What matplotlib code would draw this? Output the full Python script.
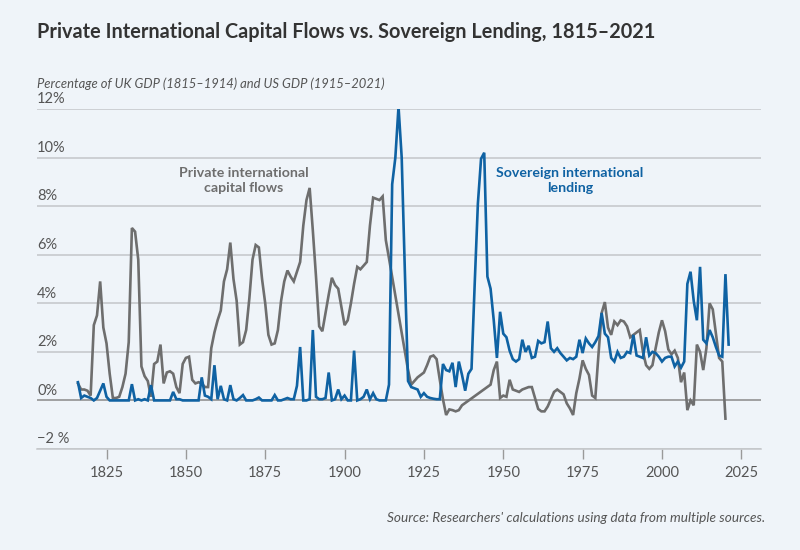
import matplotlib
matplotlib.use("Agg")
import matplotlib.pyplot as plt
import numpy as np

plt.rcParams['font.family'] = ['Lato', 'DejaVu Sans']

# ---------------- data ----------------
private_years = (list(range(1816, 1915)) + list(range(1920, 1938)) + list(range(1946, 2021)))
private_vals = [
    # 1816-1914
    0.7, 0.45, 0.45, 0.4, 0.2, 3.1, 3.5, 4.9, 3.0, 2.35,
    1.1, 0.1, 0.1, 0.15, 0.55, 1.1, 2.4, 7.1, 6.95, 5.8,
    1.4, 1.0, 0.8, 0.15, 1.5, 1.6, 2.3, 0.7, 1.15, 1.2,
    1.1, 0.55, 0.3, 1.5, 1.75, 1.8, 0.85, 0.7, 0.75, 0.7,
    0.55, 0.55, 2.15, 2.8, 3.3, 3.7, 4.9, 5.4, 6.5, 5.0,
    4.1, 2.3, 2.4, 2.9, 4.2, 5.8, 6.4, 6.3, 5.0, 4.0,
    2.7, 2.3, 2.35, 2.9, 4.1, 4.9, 5.35, 5.1, 4.9, 5.3,
    5.7, 7.2, 8.25, 8.75, 7.0, 5.1, 3.05, 2.85, 3.6, 4.35,
    5.05, 4.75, 4.6, 3.85, 3.1, 3.3, 4.0, 4.8, 5.5, 5.4,
    5.55, 5.7, 7.2, 8.35, 8.3, 8.25, 8.4, 6.6, 5.85,
    # 1920-1937
    1.25, 0.65, 0.8, 0.95, 1.05, 1.15, 1.45, 1.8, 1.85, 1.7,
    0.85, 0.05, -0.6, -0.37, -0.4, -0.45, -0.4, -0.2,
    # 1946-2020
    0.65, 1.25, 1.6, 0.1, 0.2, 0.15, 0.85, 0.45, 0.4, 0.35,
    0.45, 0.5, 0.55, 0.55, 0.1, -0.35, -0.45, -0.45, -0.25, 0.05,
    0.35, 0.45, 0.35, 0.25, -0.12, -0.33, -0.6, 0.3, 0.9, 1.65,
    1.3, 1.05, 0.2, 0.1, 1.9, 3.6, 4.05, 3.0, 2.7, 3.25,
    3.1, 3.3, 3.25, 3.05, 2.6, 2.7, 2.8, 2.9, 2.0, 1.45,
    1.3, 1.45, 2.15, 2.8, 3.3, 2.85, 2.1, 1.9, 2.05, 1.75,
    0.75, 1.15, -0.4, 0.0, -0.2, 2.3, 2.0, 1.25, 2.15, 4.0,
    3.75, 2.75, 1.75, 1.6, -0.75,
]

sovereign_years = list(range(1816, 2022))
sovereign_vals = [
    # 1816-1865
    0.75, 0.1, 0.2, 0.15, 0.1, 0.0, 0.1, 0.4, 0.7, 0.15,
    0.0, 0.0, 0.0, 0.0, 0.0, 0.0, 0.0, 0.67, 0.0, 0.05,
    0.0, 0.05, 0.0, 0.63, 0.0, 0.0, 0.0, 0.0, 0.0, 0.0,
    0.35, 0.05, 0.05, 0.0, 0.0, 0.0, 0.0, 0.0, 0.0, 0.95,
    0.2, 0.15, 0.05, 1.45, 0.05, 0.6, 0.05, 0.0, 0.63, 0.05,
    # 1866-1915
    0.0, 0.1, 0.22, 0.0, 0.0, 0.0, 0.05, 0.12, 0.0, 0.0,
    0.0, 0.0, 0.22, 0.0, 0.0, 0.05, 0.1, 0.05, 0.05, 0.6,
    2.2, 0.0, 0.0, 0.05, 2.9, 0.15, 0.05, 0.05, 0.1, 1.15,
    0.0, 0.05, 0.45, 0.05, 0.2, 0.0, 0.0, 2.05, 0.0, 0.05,
    0.15, 0.45, 0.05, 0.3, 0.05, 0.0, 0.0, 0.0, 0.65, 8.9,
    # 1916-1965
    10.0, 12.1, 10.0, 5.3, 0.8, 0.55, 0.5, 0.45, 0.15, 0.3,
    0.15, 0.1, 0.07, 0.05, 0.05, 1.5, 1.25, 1.2, 1.55, 0.55,
    1.6, 1.05, 0.4, 1.1, 1.3, 4.8, 8.1, 9.95, 10.2, 5.1,
    4.6, 3.3, 1.75, 3.65, 2.75, 2.6, 2.05, 1.7, 1.6, 1.7,
    2.5, 2.0, 2.25, 1.75, 1.8, 2.45, 2.35, 2.4, 3.25, 2.15,
    # 1966-2021
    2.0, 2.15, 1.95, 1.8, 1.65, 1.75, 1.7, 1.8, 2.5, 1.95,
    2.55, 2.35, 2.2, 2.4, 2.65, 3.6, 2.75, 2.6, 1.75, 1.6,
    2.0, 1.75, 1.8, 2.0, 1.95, 2.7, 1.85, 1.8, 1.75, 2.6,
    1.85, 2.0, 1.95, 1.8, 1.6, 1.75, 1.8, 1.8, 1.4, 1.6,
    1.35, 1.6, 4.8, 5.3, 4.1, 3.3, 5.5, 2.5, 2.35, 2.9,
    2.6, 2.2, 1.85, 1.8, 5.2, 2.3,
]

x_ticks = [1825, 1850, 1875, 1900, 1925, 1950, 1975, 2000, 2025]
y_ticks = [-2, 0, 2, 4, 6, 8, 10, 12]
y_tick_labels = ['\u22122 %', '0%', '2%', '4%', '6%', '8%', '10%', '12%']

title = 'Private International Capital Flows vs. Sovereign Lending, 1815\u20132021'
subtitle = 'Percentage of UK GDP (1815\u20131914) and US GDP (1915\u20132021)'
source = "Source: Researchers' calculations using data from multiple sources."

# ---------------- style ----------------
BG = '#eff4f9'
GRAY = '#6e6e6e'
BLUE = '#0f62a3'
GRID = '#c3c6c9'
TEXT = '#555555'

fig = plt.figure(figsize=(8, 5.5), dpi=100, facecolor=BG)
ax = fig.add_axes([37/800, 1 - 449/550, 724/800, 340/550], facecolor=BG)

ax.set_xlim(1803.1, 2031.2)
ax.set_ylim(-2, 12)

for v in y_ticks:
    if v == 0:
        ax.axhline(v, color='#8a8a8a', lw=1.1, zorder=1)
    else:
        ax.axhline(v, color=GRID, lw=1.1, zorder=1)

for v, lab in zip(y_ticks, y_tick_labels):
    ax.annotate(lab, xy=(0, v), xycoords=ax.get_yaxis_transform(),
                xytext=(0, 2.0), textcoords='offset points',
                ha='left', va='bottom', fontsize=10.5, color=TEXT,
                annotation_clip=False)

ax.plot(private_years, private_vals, color=GRAY, lw=1.9, zorder=3,
        solid_joinstyle='miter')
ax.plot(sovereign_years, sovereign_vals, color=BLUE, lw=1.9, zorder=4,
        solid_joinstyle='miter')

for s in ['top', 'right', 'left']:
    ax.spines[s].set_visible(False)
ax.spines['bottom'].set_color(GRID)
ax.spines['bottom'].set_linewidth(1.1)

ax.set_yticks([])
ax.set_xticks(x_ticks)
ax.set_xticklabels([str(t) for t in x_ticks])
ax.tick_params(axis='x', direction='out', length=7, width=1, color='#9a9a9a',
               labelsize=10.5, labelcolor=TEXT, pad=5)

ax.text(1868.3, 9.04, 'Private international\ncapital flows', ha='center',
        va='center', fontsize=10.2, fontweight='bold', color=GRAY,
        linespacing=1.3)
ax.text(1971.0, 9.04, 'Sovereign international\nlending', ha='center',
        va='center', fontsize=10.2, fontweight='bold', color=BLUE,
        linespacing=1.3)

fig.text(37/800, 1 - 22/550, title, ha='left', va='top', fontsize=14.3,
         fontweight='bold', color='#333333')
fig.text(37/800, 1 - 77/550, subtitle, ha='left', va='top', fontsize=9.4,
         style='italic', color=TEXT)
fig.text(765/800, 1 - 512/550, source, ha='right', va='top', fontsize=9.8,
         style='italic', color=TEXT)

fig.savefig('out.png', dpi=100, facecolor=BG)
